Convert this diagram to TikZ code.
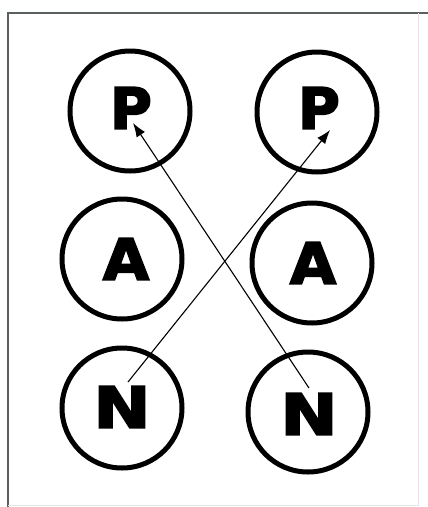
\documentclass[tikz,border=0pt]{standalone}
\usepackage{fontspec}
\usepackage{xcolor}
\usetikzlibrary{arrows.meta}
\newfontfamily\heavyfont[FakeBold=3]{DejaVu Sans Bold}
\definecolor{framegray}{RGB}{90,95,95}
\definecolor{edgegray}{RGB}{228,230,230}

\begin{document}
\begin{tikzpicture}[x=1pt, y=-1pt,
  ring/.style={circle, draw, line width=5pt, minimum size=120pt, inner sep=0pt},
  letter/.style={inner sep=0pt, font=\heavyfont\fontsize{57}{60}\selectfont},
  pass/.style={-{Latex[length=14pt,width=10pt]}, line width=1.1pt}]

\useasboundingbox (0,0) rectangle (428,507);

% frame
\draw[line width=2.5pt, color=framegray] (8,507) -- (8,13) -- (428,13);
\draw[line width=1pt, color=edgegray] (418,13) -- (418,505) -- (8,505);

% left column
\node[ring] (pL) at (130,111) {};
\node[ring] (aL) at (122,259) {};
\node[ring] (nL) at (122,408) {};
% right column
\node[ring] (pR) at (317,112) {};
\node[ring] (aR) at (312,263) {};
\node[ring] (nR) at (308,412) {};

\node[letter] (pLt) at (131,108) {P};
\node[letter, xscale=1.05] (aLt) at (126,259) {A};
\node[letter, xscale=1.2] (nLt) at (122,407) {N};
\node[letter] (pRt) at (319,108) {P};
\node[letter, xscale=1.05] (aRt) at (313,263) {A};
\node[letter, xscale=1.2] (nRt) at (309,414) {N};

\draw[pass] ([xshift=6pt,yshift=4pt]nLt.north) -- ([xshift=-10pt,yshift=-1pt]pRt.south east);
\draw[pass] ([yshift=5pt]nRt.north) -- ([xshift=2pt,yshift=6pt]pLt.south);
\end{tikzpicture}
\end{document}
